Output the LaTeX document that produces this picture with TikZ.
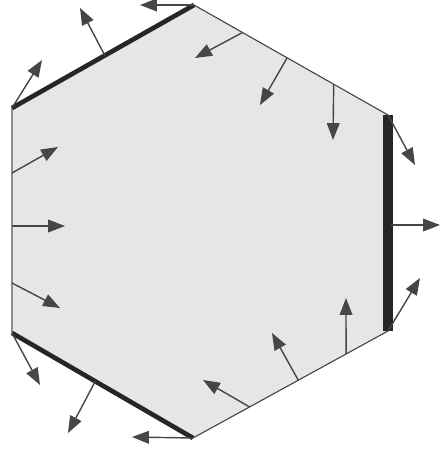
\documentclass[tikz,border=0pt]{standalone}
\usetikzlibrary{arrows.meta,calc}
\definecolor{facegray}{HTML}{E6E6E6}
\definecolor{arrowgray}{HTML}{464646}
\definecolor{edgegray}{HTML}{8E8E8E}

\begin{document}
\begin{tikzpicture}[x=0.025cm,y=-0.025cm,
  flux/.style={draw=arrowgray, line width=1pt, -{Triangle[length=12pt,width=9pt]}},
  wall/.style={line width=3.3pt, draw=black!85}]
\useasboundingbox (0,0) rectangle (440,453);
% corners of the cell
\coordinate (T) at (194,5);
\coordinate (TR) at (388,115);
\coordinate (BR) at (388,331);
\coordinate (B) at (193,438);
\coordinate (BL) at (12,333);
\coordinate (TL) at (12,108);
\fill[facegray] (T) -- (TR) -- (BR) -- (B) -- (BL) -- (TL) -- cycle;
\draw[edgegray, line width=0.8pt] (TL) -- (BL);
\draw[arrowgray, line width=0.8pt] (T) -- (TR) (BR) -- (B);
\draw[wall] (TL) -- (T);
\draw[wall] (BL) -- (B);
\draw[wall, line width=6.8pt] (TR) -- (BR);
% outward flux on the walls
\draw[flux] (T) -- (140,5);
\draw[flux] ($(T)!0.49!(TL)$) -- (80,8);
\draw[flux] (TL) -- (42,60);
\draw[flux] (TR) -- (415,165);
\draw[flux] (391,225) -- (440,225);
\draw[flux] (BR) -- (420,278);
\draw[flux] (BL) -- (40,385);
\draw[flux] ($(BL)!0.46!(B)$) -- (68,433);
\draw[flux] (B) -- (132,437);
% inward flux
\draw[flux] (12,173) -- (58,147);
\draw[flux] (12,226) -- (65,226);
\draw[flux] (12,283) -- (60,308);
\draw[flux] ($(T)!0.25!(TR)$) -- (195,58);
\draw[flux] ($(T)!0.48!(TR)$) -- (260,105);
\draw[flux] ($(T)!0.72!(TR)$) -- (333,140);
\draw[flux] ($(B)!0.29!(BR)$) -- (203,380);
\draw[flux] ($(B)!0.54!(BR)$) -- (272,333);
\draw[flux] ($(B)!0.785!(BR)$) -- (346,298);
\end{tikzpicture}
\end{document}
